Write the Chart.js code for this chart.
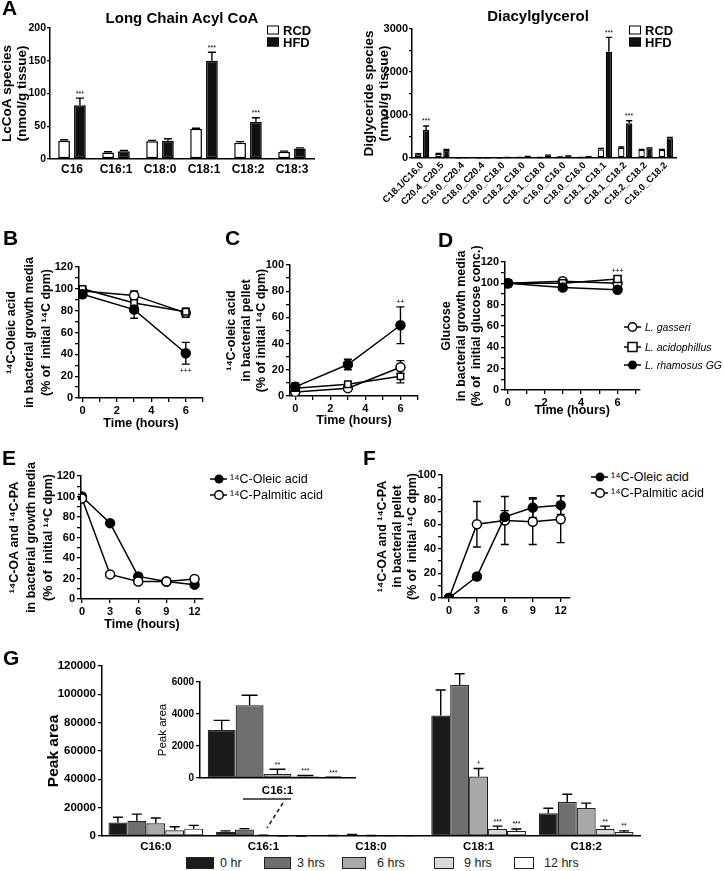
<!DOCTYPE html>
<html><head><meta charset="utf-8">
<script src="https://cdn.jsdelivr.net/npm/chart.js@4.4.1/dist/chart.umd.min.js"></script>
<style>
body{margin:0;width:724px;height:871px;position:relative;background:#fff;font-family:"Liberation Sans",Arial,sans-serif;overflow:hidden}
canvas{position:absolute}
.t{position:absolute;white-space:nowrap;color:#000}
.lt{font-weight:bold;font-size:21px;line-height:22px}
.ti{font-weight:bold;font-size:15px;transform:translate(-50%,-50%)}
.lg{position:absolute;white-space:nowrap;display:flex;align-items:center;transform:translateY(-50%);color:#000}
.bx{display:inline-block;box-sizing:border-box;border:1.5px solid #000;margin-right:4px}
</style></head><body>
<script>
// ---------- DATA ----------
const acylCats = ['C16','C16:1','C18:0','C18:1','C18:2','C18:3'];
const acylRCD = [28,10,27,46,25,11];
const acylRCDErr = [1.5,1,1.5,1,1.5,1];
const acylHFD = [82,12,28,150,57,16];
const acylHFDErr = [11,1,3,13,6,1];
const acylSig = ['***','','','***','***',''];

const dagCats = ['C18.1/C16.0','C20.4_C20.5','C16.0_C20.4','C18.0_C20.4','C18.0_C18.0','C18.2_C18.0','C18.1_C18.0','C16.0_C16.0','C18.0_C16.0','C18.1_C18.1','C18.1_C18.2','C18.2_C18.2','C16.0_C18.2'];
const dagRCD = [85,93,5,3,5,10,10,20,10,200,235,185,185];
const dagRCDErr = [15,15,2,2,2,3,3,5,3,20,20,15,15];
const dagHFD = [650,186,6,5,10,30,60,40,25,2470,807,225,457];
const dagHFDErr = [95,15,2,2,3,5,8,8,5,335,60,10,20];
const dagSig = ['***','','','','','','','','','***','***','',''];

const timeBCD = [0,3,6];
const ticksBCD = [0,2,4,6];
const bGasseri = [98,94,78], bGasseriErr = [2,4,4];
const bAcido = [100,87,79], bAcidoErr = [2,3,3];
const bRham = [95,81,41], bRhamErr = [3,8,10];
const bRhamSig = ['','','+++'];

const cGasseri = [3,6,22], cGasseriErr = [2,2,5];
const cAcido = [6,9,15], cAcidoErr = [2,2,5];
const cRham = [7,24,54], cRhamErr = [3,4,14];
const cRhamSig = ['','','++'];

const dGasseri = [100,102,100], dGasseriErr = [1,2,2];
const dAcido = [100,100,104], dAcidoErr = [1,1,3];
const dRham = [100,96,94], dRhamErr = [1,1,2];
const dAcidoSig = ['','','+++'];

const timeEF = [0,3,6,9,12];
const ticksEF = [0,3,6,9,12];
const eOleic = [100,74,22,17,14], eOleicErr = [2,2,2,2,2];
const ePalm = [98,24,17,17,19.5], ePalmErr = [1,1,1,1,1];
const fOleic = [0,17.5,66,73.5,75.5], fOleicErr = [0,1,5,8,7.5];
const fPalm = [0,60,63,62,64], fPalmErr = [0,18.5,19.5,18.5,19];

const gCats = ['C16:0','C16:1','C18:0','C18:1','C18:2'];
const gTimes = ['0 hr','3 hrs','6 hrs','9 hrs','12 hrs'];
const g0 = [9500,3000,300,85000,16000], g0Err = [3700,600,100,18000,3600];
const g3 = [10800,4550,900,106500,23900], g3Err = [4600,620,150,8000,5600];
const g6 = [9000,250,300,42000,19700], g6Err = [3700,300,100,5600,3500];
const g9 = [4000,100,200,4900,4900], g9Err = [2500,60,50,2100,2100];
const g12 = [5200,30,200,3500,2800], g12Err = [2300,20,50,1400,800];
const g6Sig = ['','','','*',''];
const g9Sig = ['','','','***','**'];
const g12Sig = ['','','','***','**'];
const insetSig = ['','','**','***','***'];

// ---------- STYLE HELPERS ----------
const ff = '"Liberation Sans", Arial, sans-serif';
function F(size, weight='bold', lh=1.2){return {family:ff,size,weight,lineHeight:lh};}
Chart.defaults.font.family = ff;
Chart.defaults.color = '#000';

function yAx(o){
  return {
    type:'linear', position:'left', min:o.min, max:o.max,
    ticks:{stepSize:o.step, autoSkip:false, includeBounds:false, color:'#000', font:o.tickFont||F(11), padding:o.tp===undefined?2:o.tp,
      callback:(v)=> (o.every ? (Math.abs(v % o.every) < 1e-9 ? String(v) : '') : String(v))},
    grid:{display:true, drawOnChartArea:false, drawTicks:true, tickLength:o.tl||4, color:'#000', lineWidth:1.3},
    border:{display:true,color:'#000',width:1.5},
    title:{display:!!o.title, text:o.title, color:'#000', font:o.tfont, padding:{top:o.tpad||0,bottom:0}},
    afterFit:(s)=>{s.width=o.yw;}
  };
}
function xLin(o){
  return {type:'linear', position:'bottom', min:o.min, max:o.max,
    ticks:{stepSize:o.step, autoSkip:false, includeBounds:false, maxRotation:0, color:'#000', font:F(11), padding:2,
      callback:(v)=> o.show.includes(v) ? String(v) : ''},
    grid:{display:true, drawOnChartArea:false, drawTicks:true, tickLength:4, color:'#000', lineWidth:1.3},
    border:{display:true,color:'#000',width:1.5},
    title:{display:!!o.title, text:o.title, color:'#000', font:F(12.5), padding:{top:0,bottom:0}},
    afterFit:(s)=>{s.height=o.xh;}
  };
}
function xCat(o){
  return {type:'category', offset:true,
    ticks:{autoSkip:false, color:'#000', font:o.font, padding:o.pad||3, maxRotation:o.rot||0, minRotation:o.rot||0},
    grid:{display:true, drawOnChartArea:false, drawTicks:false},
    border:{display:true,color:'#000',width:1.5},
    afterFit:(s)=>{s.height=o.xh;}};
}

const errPlugin = {
  id:'errbars',
  draw(chart, before){
    const ctx = chart.ctx;
    chart.data.datasets.forEach((ds,i)=>{
      if(!ds.err) return;
      const meta = chart.getDatasetMeta(i);
      const ys = chart.scales[meta.yAxisID];
      meta.data.forEach((el,j)=>{
        const v = meta.controller.getParsed(j).y;
        const e = ds.err[j];
        const x = el.x;
        const yTop = ys.getPixelForValue(v + (e||0));
        const yBot = ds.errBoth ? ys.getPixelForValue(v - (e||0)) : el.y;
        if(e && before === !!ds.errBoth){
          ctx.save(); ctx.strokeStyle = '#000'; ctx.lineWidth = ds.errW || 1.4;
          const cw = ds.capW || 4;
          ctx.beginPath();
          ctx.moveTo(x,yTop); ctx.lineTo(x,yBot);
          ctx.moveTo(x-cw,yTop); ctx.lineTo(x+cw,yTop);
          if(ds.errBoth){ ctx.moveTo(x-cw,yBot); ctx.lineTo(x+cw,yBot); }
          ctx.stroke(); ctx.restore();
        }
        if(!before && ds.sig && ds.sig[j]){
          ctx.save(); ctx.fillStyle = '#000'; ctx.font = '7px ' + ff; ctx.textAlign = 'center';
          if(ds.sigBelow){ ctx.textBaseline = 'top'; ctx.fillText(ds.sig[j], x, yBot + 3); }
          else { ctx.textBaseline = 'bottom'; ctx.fillText(ds.sig[j], x, yTop - 1); }
          ctx.restore();
        }
      });
    });
  },
  beforeDatasetsDraw(chart){ this.draw(chart, true); },
  afterDatasetsDraw(chart){ this.draw(chart, false); }
};

function makeChart(area, yw, xh, pad, type, data, scales){
  const c = document.createElement('canvas');
  const L = area[0] - yw, T = area[1] - pad.t;
  const W = area[2] + pad.r - L, H = area[3] + xh + pad.b - T;
  c.width = W; c.height = H;
  c.style.left = L + 'px'; c.style.top = T + 'px';
  c.style.width = W + 'px'; c.style.height = H + 'px';
  document.body.appendChild(c);
  return new Chart(c, {
    type, data,
    options:{
      responsive:false, animation:false, events:[], devicePixelRatio:1,
      layout:{padding:{left:0, top:pad.t, right:pad.r, bottom:pad.b}},
      plugins:{legend:{display:false}, tooltip:{enabled:false}},
      scales
    },
    plugins:[errPlugin]
  });
}

function pts(xs, ys){ return xs.map((x,i)=>({x, y:ys[i]})); }
function lineDs(xs, ys, err, style, fill, extra){
  return Object.assign({data:pts(xs,ys), showLine:true, borderColor:'#000', borderWidth:1.5, tension:0,
    pointStyle:style, pointRadius:4.5, pointBorderWidth:1.5, pointBorderColor:'#000', pointBackgroundColor:fill,
    err, errBoth:true, capW:4}, extra||{});
}

// ---------- PANEL A (left) ----------
makeChart([50,28,314,159], 50, 22, {t:24,r:6,b:10}, 'bar', {
  labels: acylCats,
  datasets:[
    {data:acylRCD, err:acylRCDErr, backgroundColor:'#fff', borderColor:'#000', borderWidth:1.5, borderSkipped:false, categoryPercentage:0.72, barPercentage:0.74, capW:4},
    {data:acylHFD, err:acylHFDErr, sig:acylSig, backgroundColor:'#111', borderColor:'#000', borderWidth:1.5, borderSkipped:false, categoryPercentage:0.72, barPercentage:0.74, capW:4}
  ]}, {
  x: xCat({font:F(12), xh:22, pad:3}),
  y: yAx({min:0,max:200,step:50,yw:50,title:['LcCoA species','(nmol/g tissue)'],tfont:F(13.5,'bold',1.1),tpad:0,tickFont:F(10.5),tl:3,tp:1})
});

// ---------- PANEL A (right) ----------
makeChart([412,29,676,158], 50, 46, {t:24,r:8,b:0}, 'bar', {
  labels: dagCats,
  datasets:[
    {data:dagRCD, err:dagRCDErr, backgroundColor:'#fff', borderColor:'#000', borderWidth:1.3, borderSkipped:false, categoryPercentage:0.78, barPercentage:0.8, capW:3},
    {data:dagHFD, err:dagHFDErr, sig:dagSig, backgroundColor:'#111', borderColor:'#000', borderWidth:1.3, borderSkipped:false, categoryPercentage:0.78, barPercentage:0.8, capW:3}
  ]}, {
  x: xCat({font:F(9.5), xh:46, pad:2, rot:45}),
  y: yAx({min:0,max:3000,step:500,every:1000,yw:50,title:['Diglyceride species','(nmol/g tissue)'],tfont:F(13.5,'bold',1.1),tpad:0,tickFont:F(11),tl:3,tp:1})
});

// ---------- PANEL B ----------
makeChart([79,267,203,398], 79, 33, {t:30,r:6,b:20}, 'scatter', {
  datasets:[
    lineDs(timeBCD, bRham, bRhamErr, 'circle', '#000', {sig:bRhamSig, sigBelow:true}),
    lineDs(timeBCD, bAcido, bAcidoErr, 'rect', '#fff'),
    lineDs(timeBCD, bGasseri, bGasseriErr, 'circle', '#fff')
  ]}, {
  x: xLin({min:-0.2,max:7,step:1,show:ticksBCD,xh:33,title:'Time (hours)'}),
  y: yAx({min:0,max:120,step:10,every:20,yw:79,title:['¹⁴C-Oleic acid','in bacterial growth media','(% of  initial ¹⁴C dpm)'],tfont:F(12.5,'bold',1.4),tpad:3})
});

// ---------- PANEL C ----------
makeChart([290,265,418,396], 66, 32, {t:30,r:6,b:20}, 'scatter', {
  datasets:[
    lineDs(timeBCD, cRham, cRhamErr, 'circle', '#000', {sig:cRhamSig}),
    lineDs(timeBCD, cAcido, cAcidoErr, 'rect', '#fff'),
    lineDs(timeBCD, cGasseri, cGasseriErr, 'circle', '#fff')
  ]}, {
  x: xLin({min:-0.3,max:7,step:1,show:ticksBCD,xh:32,title:'Time (hours)'}),
  y: yAx({min:0,max:100,step:10,every:20,yw:66,title:['¹⁴C-oleic acid','in bacterial pellet','(% of initial ¹⁴C dpm)'],tfont:F(12.5,'bold',1.2),tpad:0})
});

// ---------- PANEL D ----------
makeChart([505,262,640,390], 66, 28, {t:30,r:6,b:20}, 'scatter', {
  datasets:[
    lineDs(timeBCD, dRham, dRhamErr, 'circle', '#000'),
    lineDs(timeBCD, dAcido, dAcidoErr, 'rect', '#fff', {sig:dAcidoSig, pointRadius:5}),
    lineDs(timeBCD, dGasseri, dGasseriErr, 'circle', '#fff')
  ]}, {
  x: xLin({min:-0.16,max:7.2,step:1,show:ticksBCD,xh:28,title:'Time (hours)'}),
  y: yAx({min:0,max:120,step:10,every:20,yw:66,title:['Glucose','in bacterial growth media','(% of  initial glucose conc.)'],tfont:F(12.5,'bold',1.2),tpad:0})
});

// ---------- PANEL E ----------
makeChart([81,476,203,599], 81, 33, {t:30,r:6,b:20}, 'scatter', {
  datasets:[
    lineDs(timeEF, ePalm, ePalmErr, 'circle', '#fff'),
    lineDs(timeEF, eOleic, eOleicErr, 'circle', '#000')
  ]}, {
  x: xLin({min:-0.1,max:12.9,step:3,show:ticksEF,xh:33,title:'Time (hours)'}),
  y: yAx({min:0,max:120,step:10,every:20,yw:81,title:['¹⁴C-OA and ¹⁴C-PA','in bacterial growth media','(% of  initial ¹⁴C dpm)'],tfont:F(12.5,'bold',1.35),tpad:6})
});

// ---------- PANEL F ----------
makeChart([442,475,570,598], 67, 22, {t:30,r:6,b:20}, 'scatter', {
  datasets:[
    lineDs(timeEF, fOleic, fOleicErr, 'circle', '#000'),
    lineDs(timeEF, fPalm, fPalmErr, 'circle', '#fff')
  ]}, {
  x: xLin({min:-0.75,max:13,step:3,show:ticksEF,xh:22}),
  y: yAx({min:0,max:100,step:10,every:20,yw:67,title:['¹⁴C-OA and ¹⁴C-PA','in bacterial pellet','(% of  initial ¹⁴C dpm)'],tfont:F(12.5,'bold',1.2),tpad:0})
});

// ---------- PANEL G ----------
const gFill = ['#1b1b1b','#6f6f6f','#a9a9a9','#d9d9d9','#ffffff'];
const gVals = [g0,g3,g6,g9,g12], gErrs = [g0Err,g3Err,g6Err,g9Err,g12Err];
const gSigs = [null,null,g6Sig,g9Sig,g12Sig];
makeChart([102,665,640,836], 102, 18, {t:8,r:6,b:0}, 'bar', {
  labels: gCats,
  datasets: gVals.map((v,i)=>({label:gTimes[i], data:v, err:gErrs[i], sig:gSigs[i], backgroundColor:gFill[i], borderColor:'#222', borderWidth:1.2, borderSkipped:false, categoryPercentage:0.88, barPercentage:1, capW:5}))
}, {
  x: xCat({font:F(11.5), xh:18, pad:4}),
  y: yAx({min:0,max:120000,step:20000,yw:102,title:'Peak area',tfont:F(15.5),tpad:44,tickFont:F(11.5)})
});

// inset (C16:1)
makeChart([200,682,355,778], 50, 26, {t:8,r:4,b:0}, 'bar', {
  labels: [gCats[1]],
  datasets: gVals.map((v,i)=>({label:gTimes[i], data:[v[1]], err:[gErrs[i][1]], sig:[insetSig[i]], backgroundColor:gFill[i], borderColor:'#222', borderWidth:1.2, borderSkipped:false, categoryPercentage:0.9, barPercentage:1, capW:8}))
}, {
  x: xCat({font:F(11.5), xh:26, pad:6}),
  y: yAx({min:0,max:6000,step:2000,yw:50,title:'Peak area',tfont:F(11.5,'normal'),tpad:6,tickFont:F(10)})
});
</script>

<!-- panel letters and titles -->
<div class="t lt" style="left:2px;top:-3px">A</div>
<div class="t lt" style="left:3px;top:227px">B</div>
<div class="t lt" style="left:225px;top:227px">C</div>
<div class="t lt" style="left:438px;top:229px">D</div>
<div class="t lt" style="left:2px;top:447px">E</div>
<div class="t lt" style="left:363px;top:447px">F</div>
<div class="t lt" style="left:3px;top:647px">G</div>
<div class="t ti" style="left:182px;top:17px">Long Chain Acyl CoA</div>
<div class="t ti" style="left:538px;top:15px">Diacylglycerol</div>

<!-- legends A -->
<div class="lg" style="left:267px;top:30px;font-weight:bold;font-size:13px"><span class="bx" style="width:12px;height:9px;background:#fff"></span>RCD</div>
<div class="lg" style="left:267px;top:42px;font-weight:bold;font-size:13px"><span class="bx" style="width:12px;height:9px;background:#111"></span>HFD</div>
<div class="lg" style="left:629px;top:30px;font-weight:bold;font-size:13px"><span class="bx" style="width:12px;height:9px;background:#fff"></span>RCD</div>
<div class="lg" style="left:629px;top:42px;font-weight:bold;font-size:13px"><span class="bx" style="width:12px;height:9px;background:#111"></span>HFD</div>

<!-- legend D -->
<div class="lg" style="left:624px;top:327px;font-style:italic;font-size:10.5px"><svg width="17" height="12" style="margin-right:4px"><line x1="0" y1="6" x2="17" y2="6" stroke="#000" stroke-width="1.5"/><circle cx="8.5" cy="6" r="4.2" fill="#fff" stroke="#000" stroke-width="1.5"/></svg>L. gasseri</div>
<div class="lg" style="left:624px;top:347px;font-style:italic;font-size:10.5px"><svg width="17" height="12" style="margin-right:4px"><line x1="0" y1="6" x2="17" y2="6" stroke="#000" stroke-width="1.5"/><rect x="4" y="1.5" width="9" height="9" fill="#fff" stroke="#000" stroke-width="1.5"/></svg>L. acidophillus</div>
<div class="lg" style="left:624px;top:365px;font-style:italic;font-size:10.5px"><svg width="17" height="12" style="margin-right:4px"><line x1="0" y1="6" x2="17" y2="6" stroke="#000" stroke-width="1.5"/><circle cx="8.5" cy="6" r="4.5" fill="#000"/></svg>L. rhamosus GG</div>

<!-- legend E -->
<div class="lg" style="left:210px;top:479px;font-size:12.5px"><svg width="17" height="12" style="margin-right:3px"><line x1="0" y1="6" x2="17" y2="6" stroke="#000" stroke-width="1.5"/><circle cx="9" cy="6" r="4.5" fill="#000"/></svg>¹⁴C-Oleic acid</div>
<div class="lg" style="left:210px;top:495px;font-size:12.5px"><svg width="17" height="12" style="margin-right:3px"><line x1="0" y1="6" x2="17" y2="6" stroke="#000" stroke-width="1.5"/><circle cx="9" cy="6" r="4.3" fill="#fff" stroke="#000" stroke-width="1.5"/></svg>¹⁴C-Palmitic acid</div>
<!-- legend F -->
<div class="lg" style="left:591px;top:477px;font-size:12.5px"><svg width="17" height="12" style="margin-right:3px"><line x1="0" y1="6" x2="17" y2="6" stroke="#000" stroke-width="1.5"/><circle cx="9" cy="6" r="4.5" fill="#000"/></svg>¹⁴C-Oleic acid</div>
<div class="lg" style="left:591px;top:493px;font-size:12.5px"><svg width="17" height="12" style="margin-right:3px"><line x1="0" y1="6" x2="17" y2="6" stroke="#000" stroke-width="1.5"/><circle cx="9" cy="6" r="4.3" fill="#fff" stroke="#000" stroke-width="1.5"/></svg>¹⁴C-Palmitic acid</div>

<!-- legend G -->
<div class="lg" style="left:186px;top:863px;font-size:12.5px;color:#222"><span class="bx" style="width:28px;height:12px;background:#1b1b1b;border-color:#222;margin-right:6px"></span>0 hr</div>
<div class="lg" style="left:264px;top:863px;font-size:12.5px;color:#222"><span class="bx" style="width:27px;height:12px;background:#6f6f6f;border-color:#222;margin-right:6px"></span>3 hrs</div>
<div class="lg" style="left:342px;top:863px;font-size:12.5px;color:#222"><span class="bx" style="width:24px;height:12px;background:#a9a9a9;border-color:#222;margin-right:11px"></span>6 hrs</div>
<div class="lg" style="left:434px;top:863px;font-size:12.5px;color:#222"><span class="bx" style="width:20px;height:12px;background:#d9d9d9;border-color:#222;margin-right:10px"></span>9 hrs</div>
<div class="lg" style="left:514px;top:863px;font-size:12.5px;color:#222"><span class="bx" style="width:20px;height:12px;background:#fff;border-color:#222;margin-right:10px"></span>12 hrs</div>

<!-- inset connector -->
<svg style="position:absolute;left:0;top:0;pointer-events:none" width="724" height="871">
<line x1="243" y1="799" x2="291" y2="799" stroke="#222" stroke-width="1.3"/>
<line x1="283" y1="803" x2="267" y2="828" stroke="#222" stroke-width="1.6" stroke-dasharray="4,3"/>
</svg>
</body></html>
